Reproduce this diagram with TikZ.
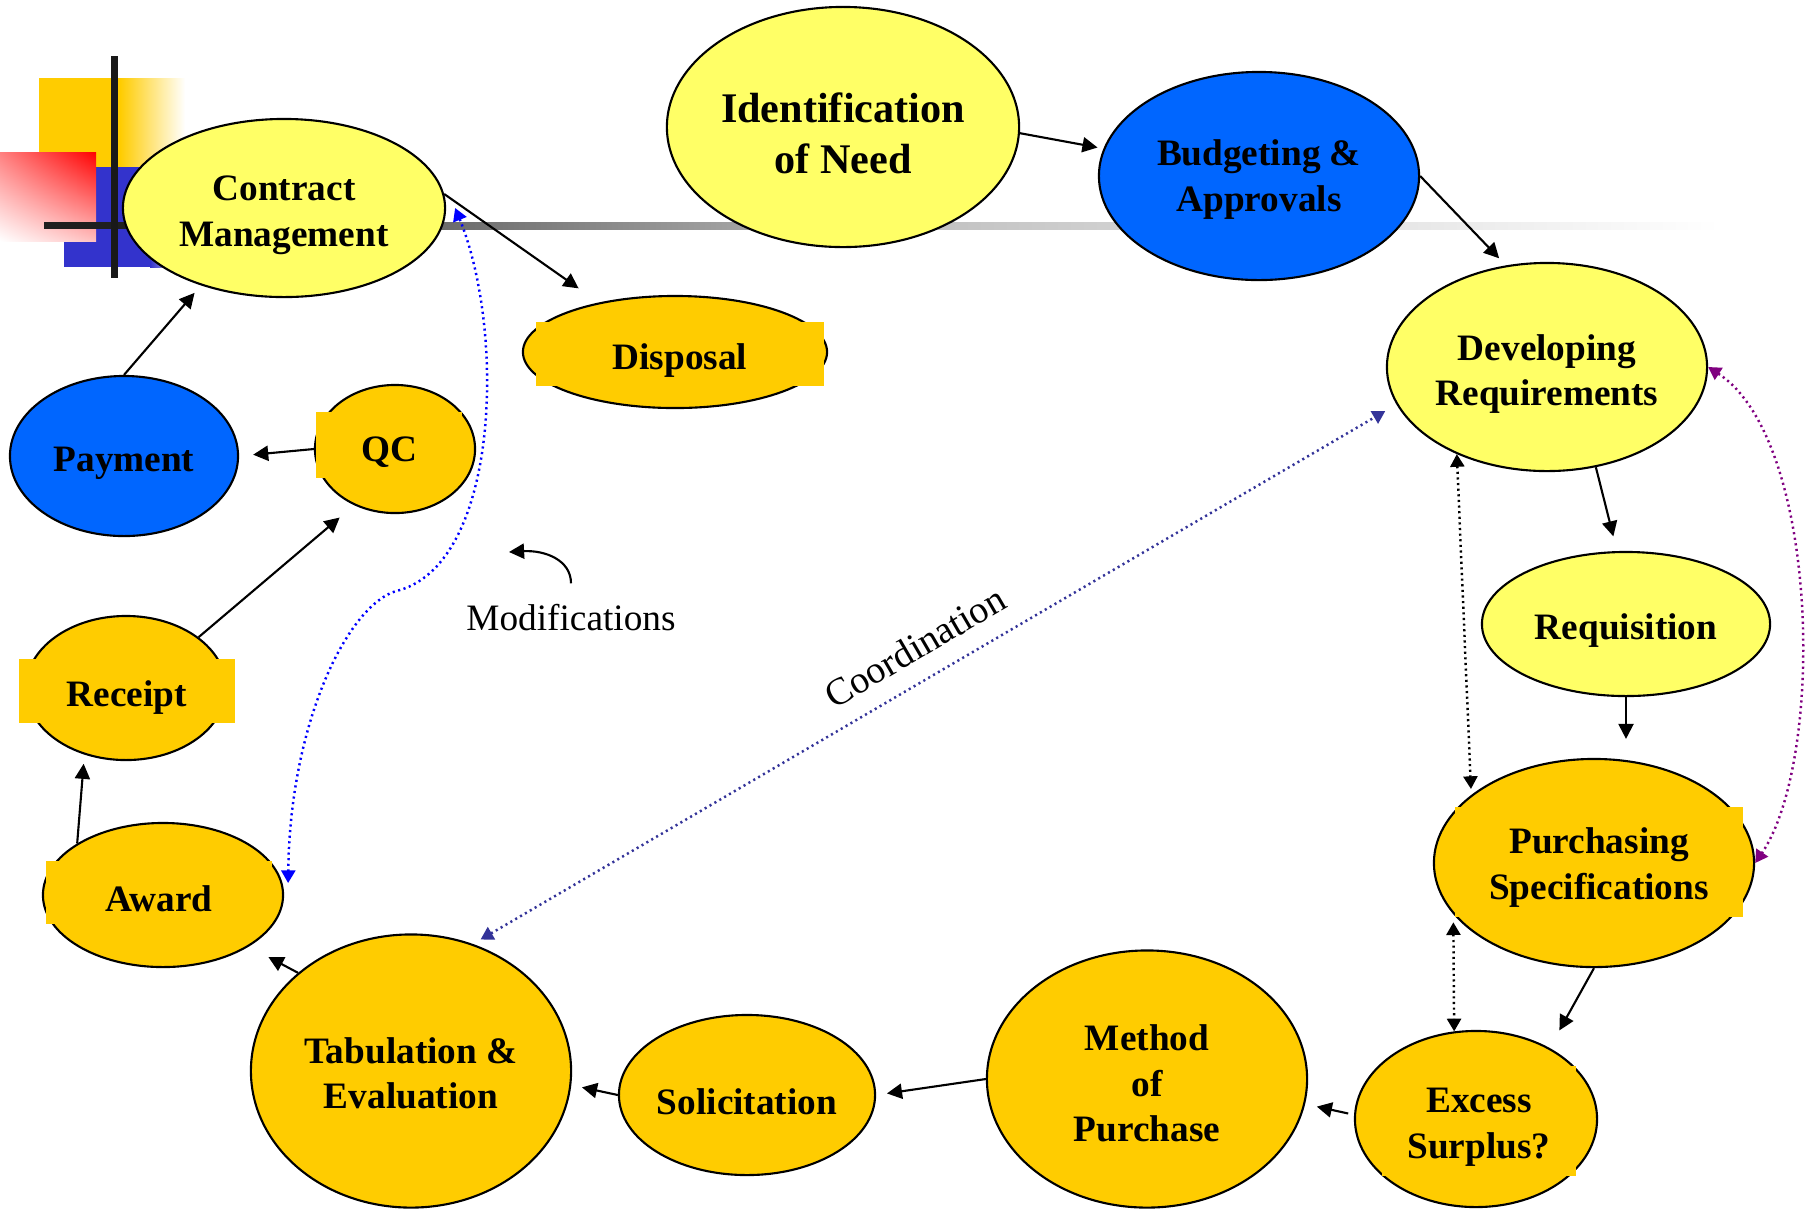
\documentclass[tikz,border=0pt]{standalone}
\usepackage{fontspec}
\setmainfont{Liberation Serif}
\usepackage{tikz}
\usetikzlibrary{calc,positioning,shapes.geometric,arrows.meta,shadings}
\definecolor{lyel}{rgb}{1,1,0.4}
\definecolor{gold}{rgb}{1,0.8,0}
\definecolor{bleu}{rgb}{0,0.4,1}
\definecolor{indigo}{rgb}{0.2,0.2,0.8}
\definecolor{navy}{rgb}{0.2,0.2,0.6}
\definecolor{violet}{rgb}{0.5,0,0.5}
\tikzset{
  phase/.style={ellipse, draw=black, line width=0.6pt, inner sep=0pt, align=center,
    font=\fontsize{10.6}{13}\selectfont\bfseries, execute at begin node=\rule{0pt}{11pt}},
  yel/.style={phase, fill=lyel},
  ora/.style={phase, fill=gold},
  blu/.style={phase, fill=bleu},
  tbox/.style={rectangle, fill=gold, inner sep=0pt, align=center,
    font=\fontsize{10.6}{13}\selectfont\bfseries, execute at begin node=\rule{0pt}{11pt}},
  txtdrop/.style={execute at begin node=\rule{0pt}{#1}},
  line/.style={draw, line width=0.6pt, -{Triangle[length=4.3pt,width=4.3pt]}},
  dots/.style={draw, line width=0.7pt, dash pattern=on 0.6pt off 1pt,
    {Triangle[length=3.6pt,width=4pt]}-{Triangle[length=3.6pt,width=4pt]}},
}
\begin{document}
\begin{tikzpicture}[x=0.01cm, y=-0.01cm]
\path[use as bounding box, fill=white] (0,0) rectangle (1812,1208);

% corner decoration
\fill[gold] (39,78) rectangle (120,167);
\shade[left color=gold, right color=white] (120,78) rectangle (185,167);
\fill[indigo] (64,167) rectangle (150,267);
\shade[left color=indigo, right color=white] (150,167) rectangle (185,267);
\shade[upper left=red!50, upper right=red, lower left=white, lower right=red!25] (0,152) rectangle (96,241);
\fill[black!88] (44,222) rectangle (440,229);
\shade[left color=black!58, right color=black!25] (440,222) rectangle (900,229);
\shade[left color=black!25, right color=white] (900,222) rectangle (1720,229);
\fill[black!90] (111,56) rectangle (118,278);

% phases
\node[yel, txtdrop=24.3pt, minimum width=3.22cm, minimum height=1.78cm] (cm) at (284,208) {Contract\\Management};
\node[yel, txtdrop=26.4pt, minimum width=3.52cm, minimum height=2.40cm,
  font=\fontsize{12}{14.3}\selectfont\bfseries] (idn) at (843,127) {Identification\\of Need};
\node[blu, txtdrop=22.3pt, minimum width=3.20cm, minimum height=2.08cm] (bud) at (1259,176) {Budgeting \&\\Approvals};
\node[yel, txtdrop=24.3pt, minimum width=3.20cm, minimum height=2.08cm] (dev) at (1547,367) {Developing\\Requirements};
\node[yel, minimum width=2.88cm, minimum height=1.44cm] (req) at (1626,624) {Requisition};
\node[ora, minimum width=3.20cm, minimum height=2.08cm] (pur) at (1594,863) {};
\node[tbox, txtdrop=23.6pt, minimum width=2.88cm, minimum height=1.09cm] (pur-t) at (1599,862) {Purchasing\\Specifications};
\node[ora, minimum width=2.42cm, minimum height=1.76cm] (exc) at (1476,1119) {};
\node[tbox, txtdrop=23.3pt, minimum width=1.94cm, minimum height=1.09cm] (exc-t) at (1479,1121) {Excess\\Surplus?};
\node[ora, txtdrop=35.9pt, minimum width=3.20cm, minimum height=2.57cm] (mop) at (1147,1079) {Method\\of\\Purchase};
\node[ora, minimum width=2.56cm, minimum height=1.60cm] (sol) at (747,1095) {Solicitation};
\node[ora, txtdrop=21.7pt, minimum width=3.20cm, minimum height=2.73cm] (tab) at (411,1071) {Tabulation \&\\Evaluation};
\node[ora, minimum width=2.40cm, minimum height=1.44cm] (awd) at (163,895) {};
\node[tbox, minimum width=2.26cm, minimum height=0.63cm] (awd-t) at (159,892) {Award};
\node[ora, minimum width=2.00cm, minimum height=1.44cm] (rec) at (126,688) {};
\node[tbox, minimum width=2.16cm, minimum height=0.64cm] (rec-t) at (127,691) {Receipt};
\node[ora, minimum width=1.60cm, minimum height=1.28cm] (qc) at (395,449) {};
\node[tbox, minimum width=1.46cm, minimum height=0.65cm] (qc-t) at (389,445) {QC};
\node[blu, minimum width=2.28cm, minimum height=1.60cm] (pay) at (124,456) {Payment};
\node[ora, minimum width=3.04cm, minimum height=1.12cm] (dis) at (675,352) {};
\node[tbox, minimum width=2.88cm, minimum height=0.64cm] (dis-t) at (680,354) {Disposal};

% cycle
\path
  (idn.-2) edge[line, shorten >=1.7pt] (bud.170)
  (bud.east) edge[line, shorten >=2.8pt] (dev.112)
  (dev.-64) edge[line, shorten >=4.3pt] (req.97)
  (req.south) edge[line, shorten >=5.4pt] (req.south |- pur.north)
  (pur.south) edge[line, shorten >=5.7pt] (exc.44)
  (exc.178) edge[line, shorten <=1.7pt, shorten >=3.4pt] (mop.-9)
  (mop.west) edge[line, shorten >=3.1pt] (sol.east)
  (sol.west) edge[line, shorten >=3.1pt] (tab.-5)
  (tab.139) edge[line, shorten >=6.3pt] (awd.-31)
  (awd.149) edge[line, shorten >=2.6pt] (rec.-122)
  (rec.35) edge[line, shorten >=5.4pt] (qc.-126)
  (qc.west) edge[line, shorten >=4pt] (pay.east)
  (pay.north) edge[line, shorten >=2.8pt] (cm.-137)
  (cm.5) edge[line, shorten >=7pt] (dis.147);

% feedback
\draw[dots, blue] ($(cm.east)+(9,0)$) .. controls (505,330) and (500,560) .. (400,590)
  .. controls (350,600) and (290,720) .. ($(awd.east)+(4,-12)$);
\draw[dots, navy, shorten <=2.5pt, shorten >=3.7pt] (tab.64) -- node[sloped, above=2pt, pos=0.497,
  text=black, font=\fontsize{10.9}{13}\selectfont] (crd) {Coordination} (dev.194);
\draw[dots, violet] (dev.east) .. controls (1820,440) and (1825,760) .. (pur.east);
\draw[dots, shorten >=1.7pt] (dev.224) -- (pur.151);
\draw[dots, shorten <=2.3pt] (pur.200) -- (exc.104);

\node[font=\fontsize{10.6}{12}\selectfont] (mod) at (571,618) {Modifications};
\coordinate (modtip) at (509,552);
\draw[line] ($(mod.north)+(0,-9)$) .. controls (571,560) and (545,550) .. (modtip);
\end{tikzpicture}
\end{document}
